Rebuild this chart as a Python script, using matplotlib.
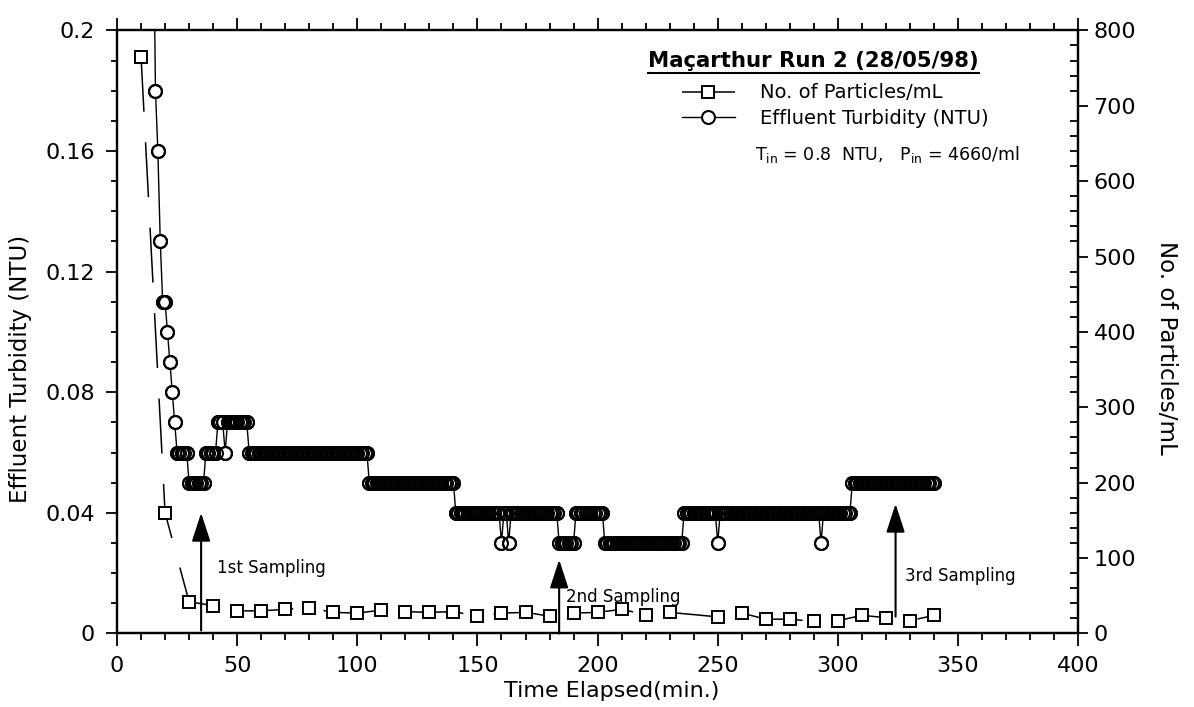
import numpy as np
import matplotlib
matplotlib.use("Agg")
import matplotlib.pyplot as plt
from matplotlib.ticker import MultipleLocator, FuncFormatter
from matplotlib.lines import Line2D

# particle counts (right axis, no./mL) sampled every 10 min
part_t = [10, 20, 30, 40, 50, 60, 70, 80, 90, 100, 110, 120, 130, 140, 150, 160,
          170, 180, 190, 200, 210, 220, 230, 250, 260, 270, 280, 290, 300, 310,
          320, 330, 340]
part_n = [765, 160, 42, 37, 30, 30, 32, 34, 28, 27, 31, 29, 28, 29, 23, 27,
          28, 23, 27, 28, 32, 25, 28, 22, 27, 19, 19, 16, 17, 24,
          21, 17, 24]

# effluent turbidity: first drop read point by point (1 min logging)
turb_t_early = [15, 16, 17, 18, 19, 20, 21, 22, 23, 24]
turb_early = [0.25, 0.18, 0.16, 0.13, 0.11, 0.11, 0.10, 0.09, 0.08, 0.07]

# after that the meter reads in 0.01 NTU steps -> runs of equal readings
run_start = [25, 30, 37, 42, 45, 46, 55, 105, 141, 160, 161, 163, 164, 184,
             191, 203, 236, 250, 251, 293, 294, 306]
run_end = [29, 36, 41, 44, 45, 54, 104, 140, 159, 160, 162, 163, 183, 190,
           202, 235, 249, 250, 292, 293, 305, 340]
run_level = [0.06, 0.05, 0.06, 0.07, 0.06, 0.07, 0.06, 0.05, 0.04, 0.03, 0.04,
             0.03, 0.04, 0.03, 0.04, 0.03, 0.04, 0.03, 0.04, 0.03, 0.04, 0.05]

sampling_t = [35, 184, 324]
sampling_labels = ["1st Sampling", "2nd Sampling", "3rd Sampling"]

turb_t = list(turb_t_early)
turb = list(turb_early)
for s, e, lv in zip(run_start, run_end, run_level):
    for t in range(s, e + 1):
        turb_t.append(t)
        turb.append(lv)

plt.rcParams["font.family"] = "DejaVu Sans"

fig = plt.figure(figsize=(11.94, 7.07), dpi=100)
ax = fig.add_axes([0.098, 0.104, 0.805, 0.853])
ax2 = ax.twinx()

# turbidity (left axis)
l_turb, = ax.plot(turb_t, turb, color="black", lw=1.0, marker="o", ms=9.3,
                  mfc="white", mec="black", mew=1.5,
                  label="Effluent Turbidity (NTU)")
# open rings on top so overlapping markers read as a dark band like the scan
ax.plot(turb_t, turb, ls="none", marker="o", ms=9.3, mfc="none", mec="black", mew=1.5)

# particles (right axis)
l_part, = ax2.plot(part_t, part_n, color="black", lw=1.1, ls=(0, (36, 20)),
                   marker="s", ms=9.0, mfc="white", mec="black", mew=1.4,
                   label="No. of Particles/mL")

ax.set_xlim(0, 400)
ax.set_ylim(0, 0.2)
ax2.set_ylim(0, 800)

ax.xaxis.set_major_locator(MultipleLocator(50))
ax.xaxis.set_minor_locator(MultipleLocator(10))
ax.yaxis.set_major_locator(MultipleLocator(0.04))
ax.yaxis.set_minor_locator(MultipleLocator(0.01))
ax.yaxis.set_major_formatter(FuncFormatter(lambda v, p: f"{v:g}"))
ax2.yaxis.set_major_locator(MultipleLocator(100))
ax2.yaxis.set_minor_locator(MultipleLocator(20))

ax.tick_params(axis="x", which="both", direction="out", top=True, labelsize=16, pad=7, width=1.3)
ax.tick_params(axis="x", which="major", length=9)
ax.tick_params(axis="x", which="minor", length=5)
ax.tick_params(axis="y", which="both", direction="out", right=False, labelsize=16, pad=8, width=1.3)
ax.tick_params(axis="y", which="major", length=8)
ax.tick_params(axis="y", which="minor", length=4)
ax2.tick_params(axis="y", which="major", direction="out", length=7, pad=4, labelsize=16, width=1.3)
ax2.tick_params(axis="y", which="minor", direction="in", length=6, width=1.3)

for a in (ax, ax2):
    for sp in a.spines.values():
        sp.set_linewidth(1.6)

ax.set_xlabel("Time Elapsed(min.)", fontsize=16)
ax.set_ylabel("Effluent Turbidity (NTU)", fontsize=16.5)
ax2.set_ylabel("No. of Particles/mL", fontsize=16.5, rotation=270)
ax.xaxis.set_label_coords(0.515, -0.079)
ax.yaxis.set_label_coords(-0.088, 0.438)
ax2.yaxis.set_label_coords(1.104, 0.474)

# sampling arrows
arrow_tops = [0.040, 0.0245, 0.043]
arrow_bots = [0.001, 0.0, 0.0056]
text_pos = [(41.5, 0.0216), (187, 0.012), (328, 0.019)]
for t, top, bot, (tx, ty), lab in zip(sampling_t, arrow_tops, arrow_bots, text_pos, sampling_labels):
    ax.annotate("", xy=(t, top), xytext=(t, bot),
                arrowprops=dict(arrowstyle="-|>,head_length=0.8,head_width=0.26",
                                mutation_scale=22, color="black", lw=1.5,
                                shrinkA=0, shrinkB=0))
    ax.text(tx, ty, lab, fontsize=12, va="center", ha="left")

# legend block
title = ax.text(221, 0.190, "Maçarthur Run 2 (28/05/98)", fontsize=15.3,
                fontweight="bold", va="center", ha="left")
leg = ax2.legend(handles=[l_part, l_turb], loc="upper left",
                 bbox_to_anchor=(0.588, 0.912), frameon=False, fontsize=14,
                 handlelength=2.7, handletextpad=1.3, borderpad=0,
                 borderaxespad=0, labelspacing=0.35)
ax.text(265.5, 0.159, r"$\mathregular{T_{in}}$ = 0.8  NTU,   $\mathregular{P_{in}}$ = 4660/ml",
        fontsize=12.5, va="center", ha="left")

fig.canvas.draw()
bb = title.get_window_extent()
inv = fig.transFigure.inverted()
(x0, y0), (x1, _) = inv.transform([(bb.x0, bb.y0 - 2), (bb.x1, bb.y0 - 2)])
fig.add_artist(Line2D([x0, x1], [y0, y0], color="black", lw=1.5,
                      transform=fig.transFigure))

fig.savefig("out.png", dpi=100)
